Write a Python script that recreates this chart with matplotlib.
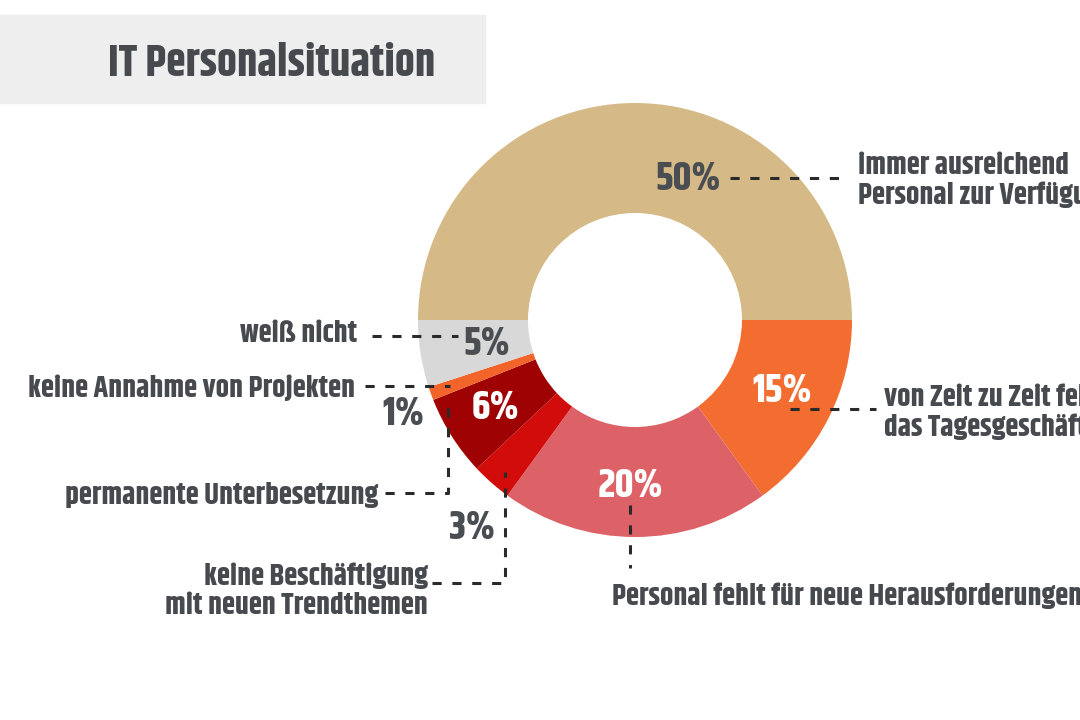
import matplotlib.pyplot as plt
from matplotlib.patches import Rectangle
from matplotlib import font_manager

# Daten
labels = ['immer ausreichend\nPersonal zur Verfügung',
          'von Zeit zu Zeit fehlt Personal für\ndas Tagesgeschäft',
          'Personal fehlt für neue Herausforderungen',
          'keine Beschäftigung\nmit neuen Trendthemen',
          'permanente Unterbesetzung',
          'keine Annahme von Projekten',
          'weiß nicht']
values = [50, 15, 20, 3, 6, 1, 5]
colors = ['#D5BA87', '#F36C30', '#DD6267', '#D20B0B', '#9F0202', '#F2642A', '#D8D8D8']
pct_colors = ['#4A4D52', 'white', 'white', '#4A4D52', 'white', '#4A4D52', '#4A4D52']

names = {f.name for f in font_manager.fontManager.ttflist}
FONT = 'Khand' if 'Khand' in names else 'DejaVu Sans'
plt.rcParams['font.family'] = FONT
plt.rcParams['font.weight'] = 'bold'
TXT = '#46494E'

fig = plt.figure(figsize=(10.8, 7.2), dpi=100)
ax = fig.add_axes([0, 0, 1, 1])

# Titelbox
ax.add_patch(Rectangle((0, 720 - 103), 485, 88, color='#EEEEEE', zorder=0))
ax.text(108, 720 - 62, 'IT Personalsituation', fontsize=32, color=TXT,
        va='center', ha='left')

cx, cy, r = 635, 720 - 320, 217
ax.pie(values, colors=colors, startangle=180, counterclock=False,
       center=(cx, cy), radius=r, wedgeprops=dict(width=110, linewidth=0),
       frame=True)
ax.set_xlim(0, 1080)
ax.set_ylim(0, 720)
ax.set_aspect('equal')
ax.axis('off')

# Prozentwerte (Pixelpositionen aus dem Original)
pct_pos = [(688, 178), (782, 390), (630, 485), (472, 527), (495, 407),
           (403, 413), (487, 343)]
for v, (px, py), c in zip(values, pct_pos, pct_colors):
    ax.text(px, 720 - py, f'{v}%', fontsize=29, color=c, ha='center', va='center')

# Beschriftungen
lab_pos = [(858, 180, 'left'), (884, 412, 'left'), (612, 596, 'left'),
           (428, 590, 'right'), (378, 495, 'right'), (355, 388, 'right'),
           (357, 333, 'right')]
for t, (px, py, ha) in zip(labels, lab_pos):
    ax.text(px, 720 - py, t, fontsize=21.5, color=TXT, ha=ha, va='center',
            multialignment=ha, linespacing=1.12)

# Führungslinien
dash = dict(color='#2A2A2A', lw=2.2, ls=(0, (3, 3.5)))
leaders = [
    [(730, 178), (845, 178)],
    [(790, 409), (876, 409)],
    [(630, 505), (630, 568)],
    [(432, 583), (505, 583), (505, 472)],
    [(385, 493), (448, 493), (448, 405)],
    [(365, 386), (450, 386)],
    [(372, 336), (458, 336)],
]
for pts in leaders:
    xs = [p[0] for p in pts]
    ys = [720 - p[1] for p in pts]
    ax.plot(xs, ys, **dash)

fig.savefig('out.png', dpi=100)
